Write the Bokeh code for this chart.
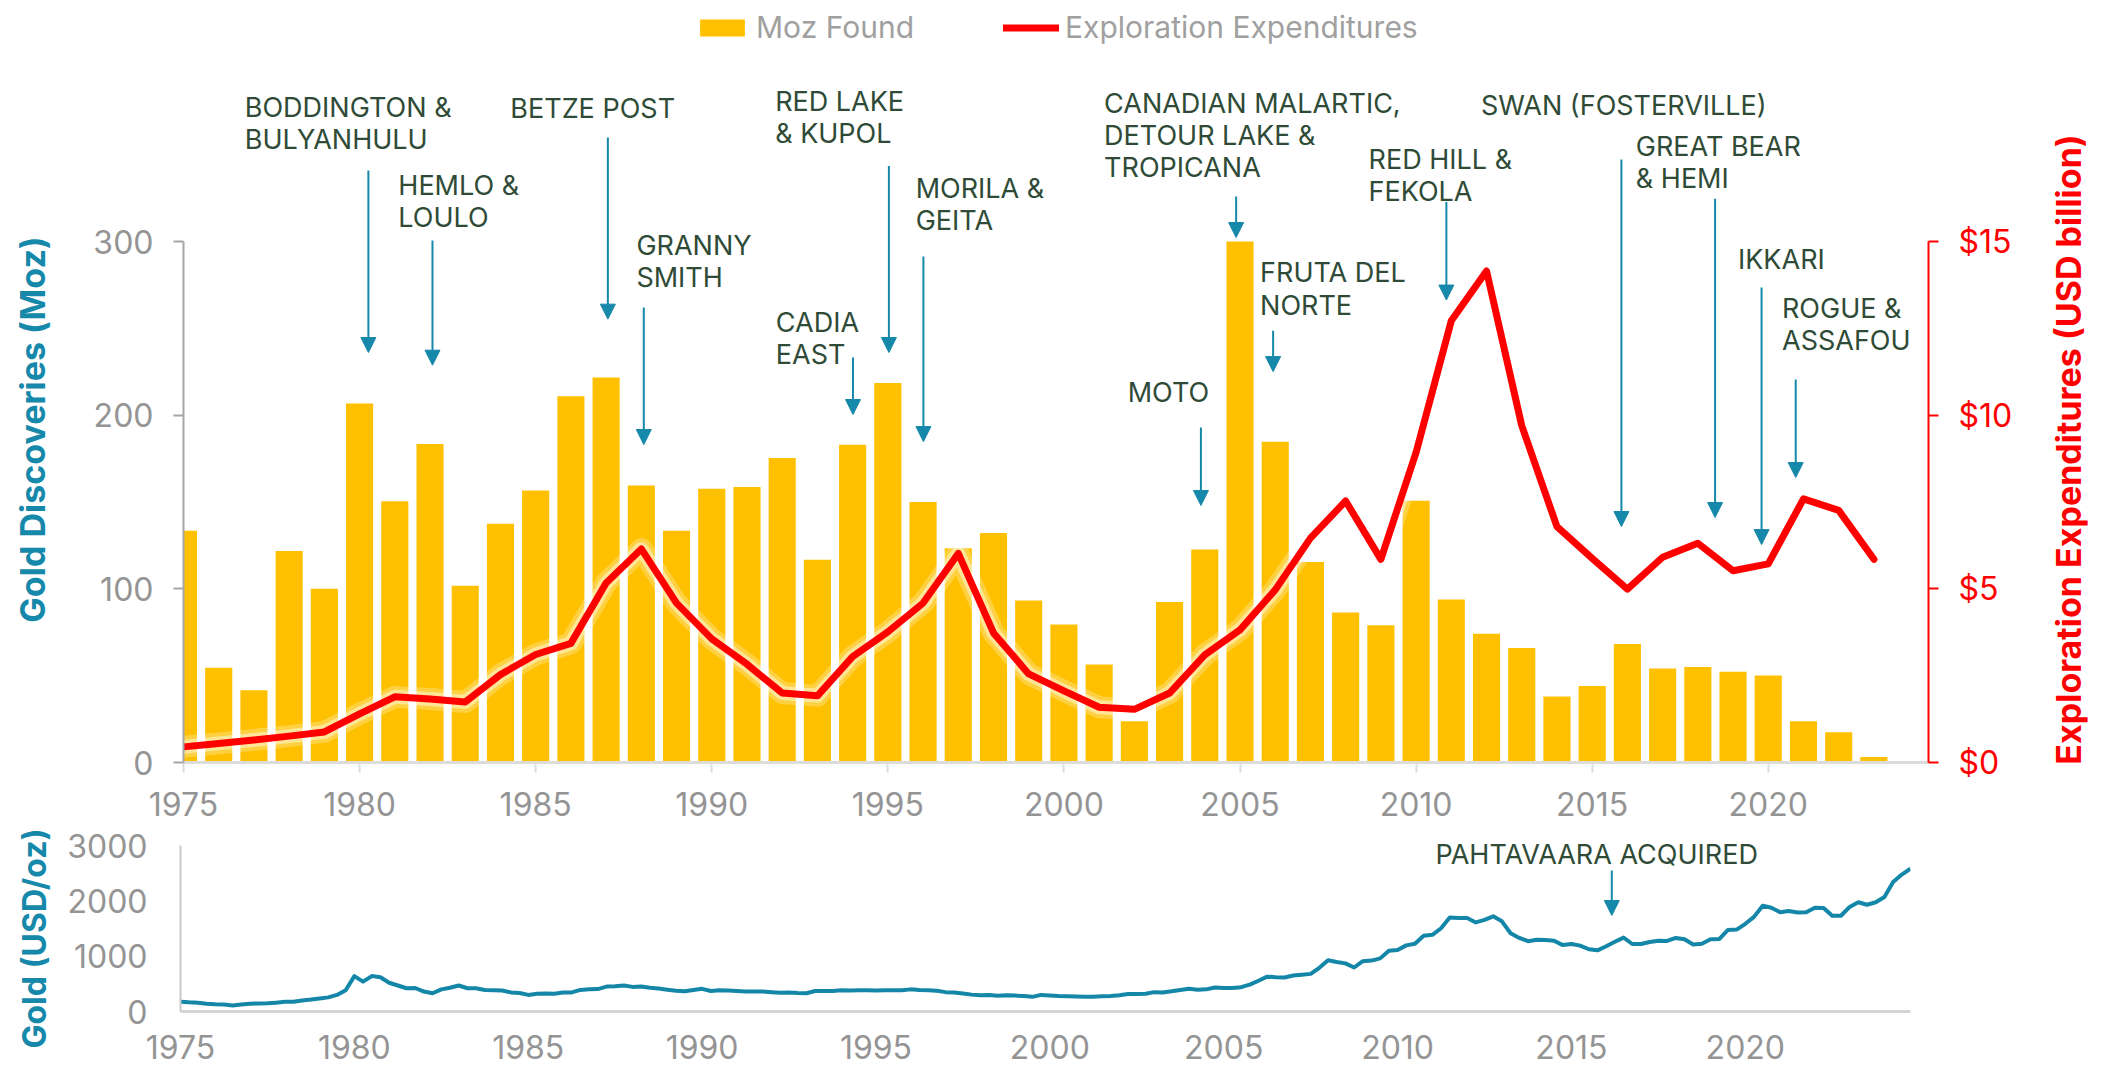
import numpy as np
from bokeh.plotting import figure
from bokeh.models import (ColumnDataSource, LinearAxis, Range1d, FixedTicker, Arrow,
                          NormalHead, Legend, LegendItem, PrintfTickFormatter, Label)
from bokeh.layouts import column, row
from bokeh.embed import file_html
from bokeh.resources import INLINE
from bokeh.core.properties import value

# ---------------- data ----------------
years = list(range(1975, 2024))
moz_found = [133.5, 54.5, 41.6, 121.8, 100.1, 206.7, 150.4, 183.4, 101.8, 137.5,
             156.6, 210.9, 221.7, 159.5, 133.5, 157.7, 158.6, 175.3, 116.8, 183.0,
             218.6, 150.0, 123.4, 132.2, 93.3, 79.4, 56.5, 23.8, 92.4, 122.7,
             300.0, 184.7, 115.5, 86.4, 79.0, 150.7, 93.9, 74.1, 66.0, 38.0,
             44.0, 68.2, 54.1, 55.0, 52.3, 50.1, 23.8, 17.4, 3.1]
expenditures = [0.45, 0.55, 0.65, 0.76, 0.88, 1.40, 1.89, 1.83, 1.74, 2.53,
                3.11, 3.43, 5.17, 6.15, 4.59, 3.56, 2.83, 2.00, 1.92, 3.05,
                3.76, 4.59, 6.02, 3.73, 2.55, 2.06, 1.59, 1.53, 2.00, 3.10,
                3.82, 4.97, 6.46, 7.53, 5.85, 8.93, 12.72, 14.15, 9.70, 6.79,
                5.88, 4.99, 5.91, 6.31, 5.52, 5.72, 7.59, 7.26, 5.85]

# quarterly gold price (USD/oz), 1975Q1 .. 2024Q4
gold_price = [
    178, 167, 160, 142, 130, 126, 110, 128, 140, 146, 147, 160,
    176, 178, 200, 215, 235, 255, 300, 385, 640, 540, 640, 620,
    520, 470, 420, 425, 360, 330, 400, 430, 470, 420, 420, 390,
    385, 380, 345, 335, 300, 320, 325, 320, 345, 345, 390, 400,
    405, 450, 455, 470, 445, 450, 430, 415, 395, 375, 365, 390,
    410, 370, 385, 380, 370, 360, 360, 360, 350, 340, 345, 335,
    330, 370, 370, 370, 385, 380, 385, 385, 380, 385, 385, 385,
    400, 390, 385, 375, 350, 345, 325, 305, 295, 300, 285, 295,
    287, 280, 265, 300, 290, 280, 275, 270, 265, 265, 275, 280,
    295, 315, 315, 320, 350, 345, 365, 390, 410, 395, 400, 435,
    425, 425, 440, 485, 555, 630, 620, 615, 650, 665, 680, 790,
    925, 895, 870, 795, 910, 920, 960, 1100, 1110, 1195, 1225, 1370,
    1385, 1505, 1700, 1690, 1690, 1610, 1655, 1720, 1630, 1415, 1330, 1270,
    1295, 1290, 1280, 1200, 1220, 1190, 1125, 1105, 1180, 1260, 1335, 1220,
    1220, 1255, 1280, 1275, 1330, 1305, 1210, 1225, 1305, 1310, 1475, 1480,
    1585, 1710, 1910, 1875, 1795, 1815, 1790, 1795, 1875, 1870, 1730, 1730,
    1890, 1975, 1930, 1975, 2070, 2340, 2475, 2580]
gold_time = [1975 + i / 4 for i in range(len(gold_price))]

tick_years = [1975, 1980, 1985, 1990, 1995, 2000, 2005, 2010, 2015, 2020]
moz_ticks = [0, 100, 200, 300]
exp_ticks = [0, 5, 10, 15]
gold_ticks = [0, 1000, 2000, 3000]

ann_labels = ["BODDINGTON &\nBULYANHULU", "HEMLO &\nLOULO", "BETZE POST", "GRANNY\nSMITH",
              "CADIA\nEAST", "RED LAKE\n& KUPOL", "MORILA &\nGEITA", "MOTO",
              "CANADIAN MALARTIC,\nDETOUR LAKE &\nTROPICANA", "FRUTA DEL\nNORTE",
              "RED HILL &\nFEKOLA", "SWAN (FOSTERVILLE)", "GREAT BEAR\n& HEMI",
              "IKKARI", "ROGUE &\nASSAFOU"]
ann_text_x = [1976.74, 1981.10, 1984.28, 1987.86, 1991.82, 1991.80, 1995.79, 2001.81,
              2001.14, 2005.57, 2008.65, 2011.84, 2016.24, 2019.14, 2020.39]
ann_text_y = [386.9, 342.0, 386.4, 307.5, 263.1, 390.4, 340.3, 222.5,
              389.2, 291.4, 357.0, 388.1, 364.5, 299.4, 271.2]
arrow_x = [1980.25, 1982.07, 1987.05, 1988.07, 1994.01, 1995.03, 1996.01, 2003.89,
           2004.89, 2005.94, 2010.86, 2015.83, 2018.49, 2019.81, 2020.78]
arrow_top = [340.9, 300.6, 359.9, 262.0, 233.2, 343.5, 291.4, 192.9,
             325.9, 248.7, 322.7, 347.2, 324.6, 273.5, 220.5]
arrow_tip = [236.1, 228.8, 255.3, 183.1, 200.4, 236.1, 184.8, 148.0,
             302.3, 225.1, 266.3, 135.9, 141.1, 125.5, 164.1]

gold_ann_label = ["PAHTAVAARA ACQUIRED"]
gold_ann_x = [2011.09]
gold_ann_y = [3144]
gold_arrow_x = [2016.16]
gold_arrow_top = [2548]
gold_arrow_tip = [1735]

# ---------------- style ----------------
FONT = "Inter"
GOLD = "#FFC000"
RED = "#FF0000"
TEAL = "#1688aa"
ANN = "#2f4b37"
TICK = "#949494"

MAIN_H = 822          # main row height (px)
GOLD_H = 244          # gold row height (px)
SIDE_W = 60           # width of the narrow title strips


def title_strip(height, text, cx, cy, color, size):
    """Narrow figure whose whole area is the frame, holding a rotated axis title."""
    f = figure(frame_width=SIDE_W, frame_height=height,
               x_range=Range1d(0, SIDE_W), y_range=Range1d(0, height),
               x_axis_type=None, y_axis_type=None, output_backend="svg",
               toolbar_location=None, min_border=0)
    f.outline_line_color = None
    f.grid.visible = False
    f.add_layout(Label(x=cx, y=cy, text=text, angle=90, angle_units="deg",
                       text_align="center", text_baseline="middle", text_font=FONT,
                       text_font_size=size, text_font_style="bold", text_color=color))
    return f


# ---------------- main figure ----------------
main = figure(frame_width=1745, frame_height=754,
              x_range=Range1d(1975, 2024.55), y_range=Range1d(0, 434.2),
              output_backend="svg", toolbar_location=None,
              min_border_left=183 - SIDE_W, min_border_right=112, min_border_top=8,
              min_border_bottom=MAIN_H - 762)
main.extra_y_ranges = {"exp": Range1d(0, 434.2 / 20)}
main.outline_line_color = None
main.xgrid.visible = False
main.ygrid.visible = False

bars = main.vbar(x=years, top=moz_found, width=0.77, fill_color=GOLD, line_color=None)

main.line(x=years, y=expenditures, y_range_name="exp", line_color="white",
          line_width=22, line_alpha=0.25, line_join="round", line_cap="round")
main.line(x=years, y=expenditures, y_range_name="exp", line_color="white",
          line_width=14, line_alpha=0.45, line_join="round", line_cap="round")
red = main.line(x=years, y=expenditures, y_range_name="exp", line_color=RED,
                line_width=7, line_join="round", line_cap="round")

# left axis
ax = main.yaxis[0]
ax.ticker = FixedTicker(ticks=moz_ticks)
ax.bounds = (0, 300)
ax.axis_line_color = "#a6a6a6"
ax.axis_line_width = 2
ax.major_tick_line_color = "#a6a6a6"
ax.major_tick_line_width = 2
ax.major_tick_out = 10
ax.major_tick_in = 0
ax.minor_tick_line_color = None
ax.major_label_text_font = FONT
ax.major_label_text_font_size = "32px"
ax.major_label_text_color = TICK
ax.major_label_standoff = 20

# right axis
rax = LinearAxis(y_range_name="exp", ticker=FixedTicker(ticks=exp_ticks),
                 formatter=PrintfTickFormatter(format="$%d"), bounds=(0, 15))
rax.axis_line_color = RED
rax.axis_line_width = 2
rax.major_tick_line_color = RED
rax.major_tick_line_width = 2
rax.major_tick_out = 10
rax.major_tick_in = 0
rax.minor_tick_line_color = None
rax.major_label_text_font = FONT
rax.major_label_text_font_size = "32px"
rax.major_label_text_color = RED
rax.major_label_standoff = 20
main.add_layout(rax, "right")

# bottom axis
bx = main.xaxis[0]
bx.ticker = FixedTicker(ticks=tick_years)
bx.axis_line_color = "#dcdcdc"
bx.axis_line_width = 3
bx.major_tick_line_color = "#dcdcdc"
bx.major_tick_line_width = 2
bx.major_tick_out = 10
bx.major_tick_in = 0
bx.minor_tick_line_color = None
bx.major_label_text_font = FONT
bx.major_label_text_font_size = "32px"
bx.major_label_text_color = TICK
bx.major_label_standoff = 19

# annotations
ann_src = ColumnDataSource(dict(x=ann_text_x, y=ann_text_y, text=ann_labels))
main.text(x="x", y="y", text="text", source=ann_src, text_font=value(FONT),
          text_font_size="27px", text_color=ANN, text_baseline="top",
          text_align="left", text_line_height=0.98)
arr_src = ColumnDataSource(dict(x=arrow_x, y0=arrow_top, y1=arrow_tip))
main.add_layout(Arrow(end=NormalHead(size=15, fill_color=TEAL, line_color=TEAL),
                      x_start="x", y_start="y0", x_end="x", y_end="y1",
                      source=arr_src, line_color=TEAL, line_width=2))

# legend
legend = Legend(items=[LegendItem(label="Moz Found", renderers=[bars]),
                       LegendItem(label="Exploration Expenditures", renderers=[red])],
                orientation="horizontal", location=(511, 717),
                label_text_font=FONT, label_text_font_size="30px",
                label_text_color="#a0a0a0", glyph_width=56, glyph_height=21,
                label_standoff=6, label_width=180, spacing=67, padding=0, margin=0,
                border_line_alpha=0, background_fill_alpha=0)
main.add_layout(legend)

left_main = title_strip(MAIN_H, "Gold Discoveries (Moz)", 32, MAIN_H - 421, TEAL, "34px")
right_main = title_strip(MAIN_H, "Exploration Expenditures (USD billion)", 28,
                         MAIN_H - 441, RED, "34px")

# ---------------- gold price figure ----------------
gp = figure(frame_width=1730, frame_height=1011 - MAIN_H,
            x_range=Range1d(1975, 2024.75),
            y_range=Range1d(0, 3000 * (1011 - MAIN_H) / 166),
            output_backend="svg", toolbar_location=None,
            min_border_left=180 - SIDE_W, min_border_right=190, min_border_top=0,
            min_border_bottom=GOLD_H - (1011 - MAIN_H))
gp.outline_line_color = None
gp.xgrid.visible = False
gp.ygrid.visible = False

gp.line(x=gold_time, y=gold_price, line_color="#1487a8", line_width=4, line_join="round")

gy = gp.yaxis[0]
gy.ticker = FixedTicker(ticks=gold_ticks)
gy.bounds = (0, 3000)
gy.axis_line_color = "#c8c8c8"
gy.axis_line_width = 2
gy.major_tick_line_color = None
gy.major_tick_out = 0
gy.major_tick_in = 0
gy.minor_tick_line_color = None
gy.major_label_text_font = FONT
gy.major_label_text_font_size = "32px"
gy.major_label_text_color = TICK
gy.major_label_standoff = 33

gx = gp.xaxis[0]
gx.ticker = FixedTicker(ticks=tick_years)
gx.axis_line_color = "#d4d4d4"
gx.axis_line_width = 3
gx.major_tick_line_color = None
gx.major_tick_out = 0
gx.major_tick_in = 0
gx.minor_tick_line_color = None
gx.major_label_text_font = FONT
gx.major_label_text_font_size = "32px"
gx.major_label_text_color = TICK
gx.major_label_standoff = 23

g_src = ColumnDataSource(dict(x=gold_ann_x, y=gold_ann_y, text=gold_ann_label))
gp.text(x="x", y="y", text="text", source=g_src, text_font=value(FONT),
        text_font_size="27px", text_color=ANN, text_baseline="top", text_align="left")
ga_src = ColumnDataSource(dict(x=gold_arrow_x, y0=gold_arrow_top, y1=gold_arrow_tip))
gp.add_layout(Arrow(end=NormalHead(size=15, fill_color=TEAL, line_color=TEAL),
                    x_start="x", y_start="y0", x_end="x", y_end="y1",
                    source=ga_src, line_color=TEAL, line_width=2))

left_gold = title_strip(GOLD_H, "Gold (USD/oz)", 34, MAIN_H + GOLD_H - 938, TEAL, "32px")

layout = column(row(left_main, main, right_main, spacing=0),
                row(left_gold, gp, spacing=0), spacing=0)
open("out.html", "w").write(file_html(layout, INLINE))
